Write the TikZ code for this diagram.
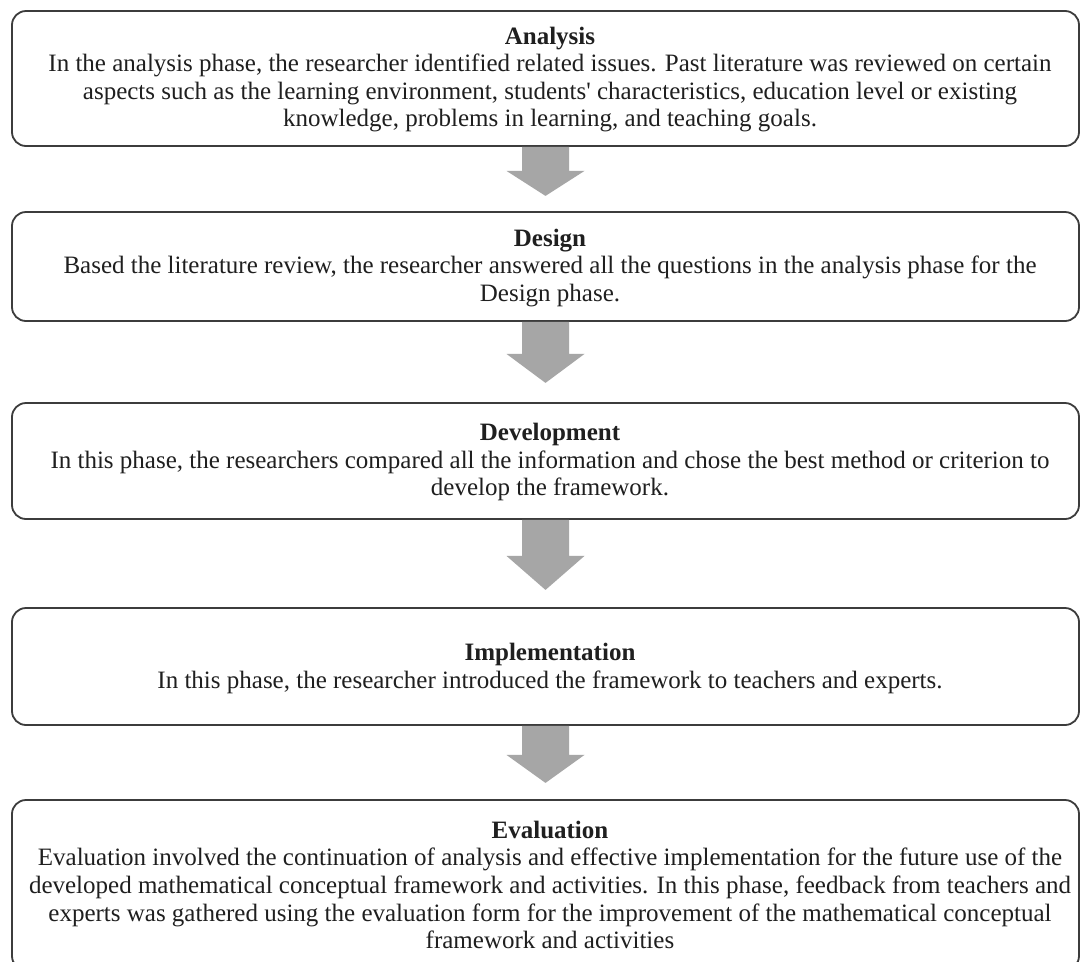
\documentclass[tikz,border=0pt]{standalone}
\usepackage{fontspec}
\setmainfont{Liberation Serif}[Ligatures=TeXOff]
\usetikzlibrary{calc}
\definecolor{boxline}{HTML}{3C3C3C}
\definecolor{arrowgray}{HTML}{A6A6A6}
\tikzset{
  phasebox/.style={draw=boxline, line width=1.8pt, rounded corners=14pt, minimum width=1067pt, inner sep=0pt},
  phasetext/.style={align=center, font=\fontsize{25}{27.6}\selectfont, text=black!88, inner sep=0pt},
}
\newcommand{\phasearrow}[3]{% #1 start node, #2 shaft length, #3 head length
  \fill[arrowgray] ($(#1.south)+(-23.5,0)$) -- ++(0,-#2) -- ++(-15.5,0) -- ++(39,-#3) -- ++(39,#3) -- ++(-15.5,0) -- ++(0,#2) -- cycle;}
\begin{document}
\begin{tikzpicture}[x=1pt,y=1pt]
\useasboundingbox (0,0) rectangle (1080,-962);
\fill[white] (0,0) rectangle (1080,-962);
\begin{scope}
\clip (0,0) rectangle (1080,-962);
\node[phasebox, minimum height=135pt] (b1) at (545.5,-78.5) {};
\node[phasebox, minimum height=109pt] (b2) at (545.5,-266.5) {};
\node[phasebox, minimum height=116pt] (b3) at (545.5,-461) {};
\node[phasebox, minimum height=117pt] (b4) at (545.5,-666.5) {};
\node[phasebox, minimum height=170pt] (b5) at (545.5,-885) {};
\end{scope}
\node[phasetext] (t1) at ([xshift=4.5pt,yshift=-1pt]b1.center) {\textbf{Analysis}\\In the analysis phase, the researcher identified related issues. Past literature was reviewed on certain\\aspects such as the learning environment, students' characteristics, education level or existing\\knowledge, problems in learning, and teaching goals.};
\node[phasetext] (t2) at ([xshift=4.5pt,yshift=-1.5pt]b2.center) {\textbf{Design}\\Based the literature review, the researcher answered all the questions in the analysis phase for the\\Design phase.};
\node[phasetext] (t3) at ([xshift=4.5pt,yshift=-1pt]b3.center) {\textbf{Development}\\In this phase, the researchers compared all the information and chose the best method or criterion to\\develop the framework.};
\node[phasetext] (t4) at ([xshift=4.5pt,yshift=-2pt]b4.center) {\textbf{Implementation}\\In this phase, the researcher introduced the framework to teachers and experts.};
\node[phasetext] (t5) at ([xshift=4.5pt,yshift=0pt]b5.center) {\textbf{Evaluation}\\Evaluation involved the continuation of analysis and effective implementation for the future use of the\\developed mathematical conceptual framework and activities. In this phase, feedback from teachers and\\experts was gathered using the evaluation form for the improvement of the mathematical conceptual\\framework and activities};
\phasearrow{b1}{24}{25}
\phasearrow{b2}{32}{29}
\phasearrow{b3}{36}{34}
\phasearrow{b4}{29}{28}
\end{tikzpicture}
\end{document}
